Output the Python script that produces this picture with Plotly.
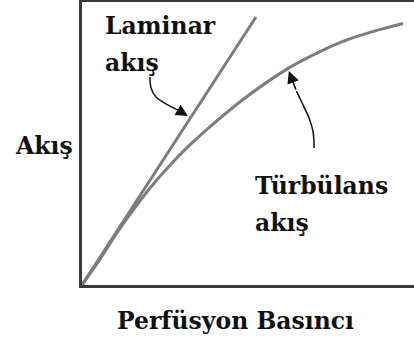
import plotly.graph_objects as go

# Perfusion pressure vs. flow: laminar (linear) and turbulent (flattening) flow
laminar_pressure = [0, 26.5, 52.4]
laminar_flow = [0, 47.9, 94.7]

turbulent_pressure = [0, 5.4, 10.5, 15.4, 20.5, 25.6, 32.5, 41.6, 50.0, 62.7, 71.7, 79.8, 88.3, 96.7]
turbulent_flow = [0, 9.05, 18.4, 26.5, 34.3, 41.2, 49.5, 59.0, 66.9, 77.0, 82.5, 86.6, 89.8, 92.4]

# Hand-drawn pointer paths from the labels to the curves
laminar_pointer_x = [20.5, 20.8, 22.3, 25.3, 28.9, 31.9]
laminar_pointer_y = [73.5, 69.6, 66.4, 64.0, 61.8, 59.7]
turbulent_pointer_x = [69.9, 69.6, 68.4, 66.3, 64.6, 62.3]
turbulent_pointer_y = [48.4, 54.1, 59.0, 64.3, 68.5, 75.6]

CURVE = "#7d7d7d"
TXT = dict(family="DejaVu Serif", size=23.5, color="#111111")

fig = go.Figure()
fig.add_trace(go.Scatter(x=laminar_pressure, y=laminar_flow, mode="lines",
                         line=dict(color=CURVE, width=3), hoverinfo="skip"))
fig.add_trace(go.Scatter(x=turbulent_pressure, y=turbulent_flow, mode="lines",
                         line=dict(color=CURVE, width=3, shape="spline", smoothing=1.0),
                         hoverinfo="skip"))
for px_, py_ in ((laminar_pointer_x, laminar_pointer_y),
                 (turbulent_pointer_x, turbulent_pointer_y)):
    fig.add_trace(go.Scatter(x=px_[:-1], y=py_[:-1], mode="lines",
                             line=dict(color="#111111", width=1.5, shape="spline"),
                             hoverinfo="skip"))
    fig.add_annotation(x=px_[-1], y=py_[-1], ax=px_[-2], ay=py_[-2],
                       xref="x", yref="y", axref="x", ayref="y", text="",
                       showarrow=True, arrowhead=2, arrowsize=1.6, arrowwidth=1.5,
                       arrowcolor="#111111")

labels = [
    ("<b>Laminar</b>", 6.3, 91.5),
    ("<b>akış</b>", 6.3, 78.4),
    ("<b>Türbülans</b>", 51.5, 35.0),
    ("<b>akış</b>", 51.5, 21.9),
]
for t, x, y in labels:
    fig.add_annotation(x=x, y=y, xref="x", yref="y", text=t, showarrow=False,
                       xanchor="left", yanchor="middle", font=TXT)

fig.add_annotation(x=-0.208, y=0.491, xref="paper", yref="paper", text="<b>Akış</b>",
                   showarrow=False, xanchor="left", yanchor="middle", font=TXT)
fig.add_annotation(x=0.461, y=-0.127, xref="paper", yref="paper",
                   text="<b>Perfüsyon Basıncı</b>", showarrow=False,
                   xanchor="center", yanchor="middle", font=TXT)

fig.update_xaxes(range=[0, 100], showline=True, mirror=True, linecolor="#3a3a3a",
                 linewidth=3, showgrid=False, zeroline=False, showticklabels=False,
                 ticks="")
fig.update_yaxes(range=[0, 100], showline=True, mirror=False, linecolor="#3a3a3a",
                 linewidth=3, showgrid=False, zeroline=False, showticklabels=False,
                 ticks="")
fig.update_layout(width=414, height=341, margin=dict(l=82, r=0, t=2, b=56),
                  paper_bgcolor="white", plot_bgcolor="white", showlegend=False)

fig.write_html("out.html")
